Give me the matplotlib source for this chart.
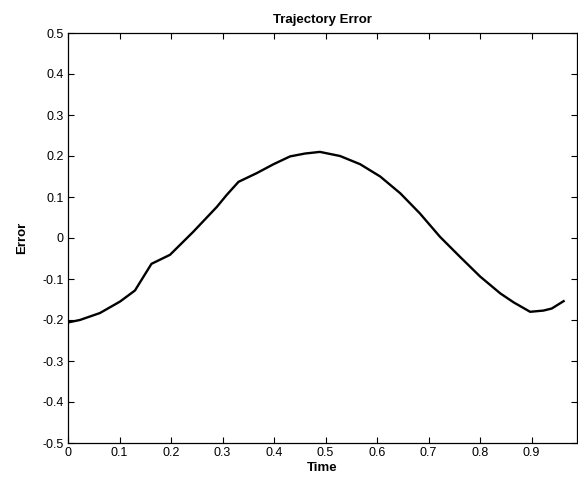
import matplotlib
matplotlib.use("Agg")
import matplotlib.pyplot as plt

plt.rcParams['font.family'] = ['Liberation Sans', 'DejaVu Sans']

time = [0.0, 0.023, 0.062, 0.101, 0.130, 0.162, 0.198, 0.243, 0.289, 0.308,
        0.331, 0.366, 0.399, 0.431, 0.460, 0.489, 0.528, 0.567, 0.606, 0.645,
        0.683, 0.722, 0.761, 0.800, 0.839, 0.865, 0.897, 0.923, 0.939, 0.962]
error = [-0.206, -0.200, -0.183, -0.155, -0.128, -0.063, -0.041, 0.015, 0.076, 0.105,
         0.137, 0.158, 0.180, 0.199, 0.206, 0.210, 0.200, 0.180, 0.150, 0.109,
         0.060, 0.003, -0.046, -0.094, -0.135, -0.157, -0.180, -0.177, -0.172, -0.154]

xticks = [0, 0.1, 0.2, 0.3, 0.4, 0.5, 0.6, 0.7, 0.8, 0.9]
xticklabels = ['0', '0.1', '0.2', '0.3', '0.4', '0.5', '0.6', '0.7', '0.8', '0.9']
yticks = [0.5, 0.4, 0.3, 0.2, 0.1, 0, -0.1, -0.2, -0.3, -0.4, -0.5]
yticklabels = ['0.5', '0.4', '0.3', '0.2', '0.1', '0', '-0.1', '-0.2', '-0.3', '-0.4', '-0.5']

fig = plt.figure(figsize=(5.78, 4.84), dpi=100)
ax = fig.add_axes([68/578, 41/484, (577-68)/578, (443-33)/484])
ax.plot(time, error, color='black', linewidth=1.7, solid_joinstyle='round')
ax.set_xlim(0, 0.988)
ax.set_ylim(-0.5, 0.5)
ax.set_xticks(xticks)
ax.set_xticklabels(xticklabels)
ax.set_yticks(yticks)
ax.set_yticklabels(yticklabels)
ax.tick_params(direction='in', top=True, right=True, length=4, width=0.8,
               labelsize=9, pad=3)
for s in ax.spines.values():
    s.set_linewidth(0.9)
ax.set_title('Trajectory Error', fontsize=9.5, fontweight='bold', pad=7)
ax.set_xlabel('Time', fontsize=9.5, fontweight='bold', labelpad=2)
ax.set_ylabel('Error', fontsize=9.5, fontweight='bold', labelpad=10)
fig.savefig('out.png', dpi=100)
